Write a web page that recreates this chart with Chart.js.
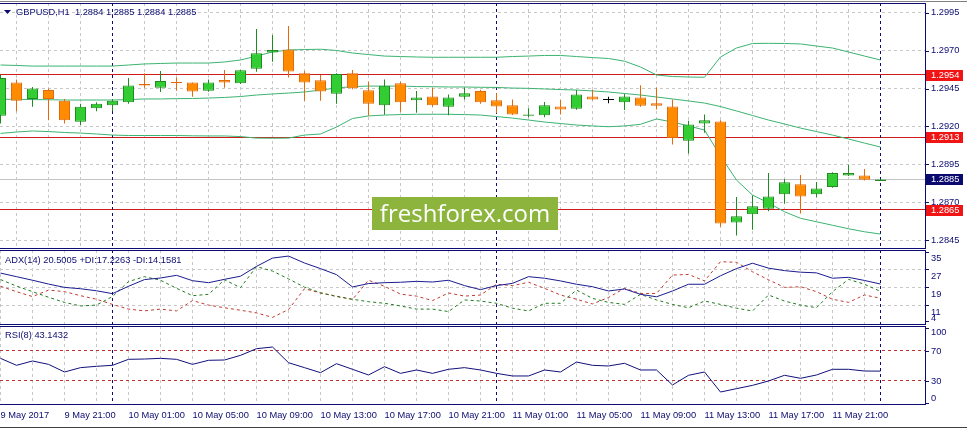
<!DOCTYPE html>
<html>
<head>
<meta charset="utf-8">
<title>GBPUSD,H1</title>
<script src="https://cdn.jsdelivr.net/npm/chart.js@4.4.1/dist/chart.umd.min.js"></script>
<style>
  html, body { margin: 0; padding: 0; background: #fff; }
  #wrap { position: relative; width: 967px; height: 429px; overflow: hidden; background: #fff; }
  #wrap canvas { position: absolute; left: 0; }
  #logo {
    position: absolute; left: 372px; top: 197px; width: 186px; height: 33px;
    background: #8db43d; color: #fff; font: 24px 'Open Sans', sans-serif;
    line-height: 32px; text-align: center;
  }
</style>
</head>
<body>
<div id="wrap">
  <canvas id="mainChart" width="967" height="250" style="top:0"></canvas>
  <canvas id="adxChart" width="967" height="77" style="top:249px"></canvas>
  <canvas id="rsiChart" width="967" height="104" style="top:325px"></canvas>
  <div id="logo">freshforex.com</div>
</div>
<script>
'use strict';

// ── Data ─────────────────────────────────────────────────────
const symbol = 'GBPUSD,H1';
const timeLabels = ['9 May 2017', '9 May 21:00', '10 May 01:00', '10 May 05:00', '10 May 09:00',
  '10 May 13:00', '10 May 17:00', '10 May 21:00', '11 May 01:00', '11 May 05:00', '11 May 09:00',
  '11 May 13:00', '11 May 17:00', '11 May 21:00'];
const labelEvery = 4;              // one time label every 4 bars
const separatorBars = [7, 31, 55]; // 10 May 00:00, 11 May 00:00, 12 May 00:00

const opens = [1.2927, 1.2949, 1.2938, 1.2944, 1.2937, 1.2923, 1.2932, 1.2934, 1.2936, 1.2948,
  1.29455, 1.29493, 1.2949, 1.29435, 1.29506, 1.29484, 1.29581, 1.29688, 1.29708, 1.2955,
  1.29504, 1.29416, 1.2955, 1.29438, 1.29339, 1.29484, 1.29372, 1.29398, 1.2933, 1.29396,
  1.29433, 1.29372, 1.29339, 1.29271, 1.29273, 1.29332, 1.29317, 1.29398, 1.29374, 1.29359,
  1.29391, 1.29352, 1.29332, 1.29106, 1.2922, 1.29233, 1.28567, 1.2862, 1.28657, 1.28752,
  1.28818, 1.28752, 1.288, 1.28877, 1.28877, 1.2884];
const highs = [1.2954, 1.2951, 1.2946, 1.2945, 1.2938, 1.2935, 1.2936, 1.2938, 1.2952, 1.2955,
  1.29565, 1.29523, 1.2949, 1.2951, 1.29572, 1.29572, 1.29842, 1.29803, 1.29862, 1.29565,
  1.29539, 1.2955, 1.29572, 1.29495, 1.2951, 1.29495, 1.29433, 1.29455, 1.29411, 1.29457,
  1.29442, 1.29418, 1.29378, 1.29319, 1.29361, 1.29374, 1.2944, 1.2944, 1.29396, 1.29413,
  1.29471, 1.29457, 1.29378, 1.29238, 1.29279, 1.2924, 1.28734, 1.28745, 1.28892, 1.28853,
  1.28879, 1.28833, 1.28897, 1.28947, 1.28919, 1.2885];
const lows = [1.2922, 1.2930, 1.2933, 1.2924, 1.2922, 1.2921, 1.2930, 1.2930, 1.2935, 1.29455,
  1.29427, 1.29435, 1.29396, 1.29429, 1.29455, 1.2948, 1.29561, 1.29627, 1.29523, 1.2937,
  1.2937, 1.2935, 1.29445, 1.29271, 1.29277, 1.29297, 1.2929, 1.2933, 1.29273, 1.29378,
  1.2935, 1.29286, 1.29275, 1.2926, 1.2926, 1.29279, 1.2931, 1.29372, 1.29352, 1.29308,
  1.2933, 1.29312, 1.29081, 1.29022, 1.29158, 1.28538, 1.28481, 1.28519, 1.2864, 1.2869,
  1.28626, 1.28732, 1.28795, 1.28873, 1.28844, 1.2884];
const closes = [1.2952, 1.2937, 1.2945, 1.2938, 1.2924, 1.2933, 1.2935, 1.2937, 1.2947, 1.2947,
  1.2950, 1.29484, 1.29431, 1.2949, 1.2949, 1.2957, 1.29682, 1.29704, 1.29563, 1.2949,
  1.29431, 1.29545, 1.29451, 1.2935, 1.29468, 1.29359, 1.29391, 1.29339, 1.29391, 1.29418,
  1.29359, 1.29332, 1.29279, 1.29279, 1.29339, 1.29312, 1.29411, 1.29378, 1.29374, 1.29398,
  1.29337, 1.29337, 1.29123, 1.29213, 1.2924, 1.2856, 1.28607, 1.28673, 1.28738, 1.28831,
  1.28738, 1.28791, 1.28892, 1.28892, 1.28848, 1.2885];

const bbUpper = [1.29605, 1.29602, 1.29598, 1.29598, 1.29598, 1.29598, 1.29598, 1.29598, 1.29605, 1.29612,
  1.29615, 1.29618, 1.29618, 1.29618, 1.29625, 1.29638, 1.29664, 1.29691, 1.29704, 1.29707,
  1.29709, 1.29701, 1.29684, 1.29674, 1.29664, 1.29661, 1.29658, 1.29656, 1.29656, 1.29656,
  1.29656, 1.29656, 1.29661, 1.29664, 1.29668, 1.29668, 1.29661, 1.29654, 1.29648, 1.29630,
  1.29592, 1.29539, 1.29529, 1.29526, 1.29524, 1.29658, 1.29717, 1.29747, 1.29748, 1.29747,
  1.29744, 1.29730, 1.29717, 1.29691, 1.29664, 1.29638];
const bbMiddle = [1.29379, 1.29379, 1.29377, 1.29376, 1.29374, 1.29374, 1.29374, 1.29374, 1.29377, 1.29381,
  1.29381, 1.29383, 1.29384, 1.29387, 1.29391, 1.29397, 1.29407, 1.29414, 1.29420, 1.29427,
  1.29440, 1.29453, 1.29463, 1.29466, 1.29466, 1.29466, 1.29463, 1.29462, 1.29460, 1.29460,
  1.29458, 1.29457, 1.29453, 1.29451, 1.29447, 1.29443, 1.29440, 1.29434, 1.29427, 1.29417,
  1.29407, 1.29394, 1.29381, 1.29368, 1.29354, 1.29331, 1.29302, 1.29272, 1.29242, 1.29216,
  1.29189, 1.29166, 1.29143, 1.29117, 1.29090, 1.29064];
const bbLower = [1.29154, 1.29163, 1.29170, 1.29166, 1.29160, 1.29156, 1.29150, 1.29143, 1.29140, 1.29140,
  1.29140, 1.29140, 1.29138, 1.29137, 1.29137, 1.29133, 1.29123, 1.29122, 1.29123, 1.29143,
  1.29150, 1.29196, 1.29252, 1.29269, 1.29275, 1.29278, 1.29280, 1.29280, 1.29280, 1.29278,
  1.29275, 1.29265, 1.29255, 1.29242, 1.29229, 1.29219, 1.29209, 1.29203, 1.29198, 1.29203,
  1.29214, 1.29249, 1.29229, 1.29203, 1.29176, 1.29005, 1.28846, 1.28747, 1.28695, 1.28637,
  1.28594, 1.28571, 1.28548, 1.28525, 1.28505, 1.28490];

const adx = [25.4, 23.8, 22.2, 20.5, 19.0, 18.4, 17.5, 16.2, 19.5, 22.5,
  23.2, 24.4, 22.0, 21.1, 22.6, 24.0, 28.4, 32.1, 33.0, 29.9,
  27.4, 24.7, 19.2, 20.7, 21.1, 21.3, 21.7, 21.4, 22.2, 19.8,
  18.0, 19.8, 20.8, 23.8, 23.1, 21.9, 20.4, 19.3, 17.4, 18.3,
  15.9, 14.8, 17.4, 20.4, 20.4, 24.2, 27.4, 29.8, 27.6, 26.5,
  25.8, 25.5, 23.1, 23.5, 22.1, 20.5005];
const plusDi = [22.5, 19.6, 17.1, 14.6, 12.3, 10.7, 11.1, 14.9, 21.6, 23.8,
  22.2, 18.6, 15.3, 15.9, 22.4, 18.9, 28.3, 26.3, 22.8, 19.1,
  16.6, 14.9, 13.7, 12.6, 11.9, 10.7, 9.3, 9.3, 8.2, 13.4,
  12.9, 11.9, 9.7, 8.45, 11.9, 11.9, 17.8, 14.1, 12.3, 11.4,
  15.9, 13.4, 11.4, 9.9, 12.9, 11.4, 9.7, 8.45, 15.6, 12.9,
  11.1, 9.9, 17.1, 22.6, 20.4, 17.2263];
const minusDi = [19.5, 17.1, 14.9, 17.8, 17.1, 15.3, 13.7, 11.4, 9.3, 8.5,
  9.3, 8.5, 13.1, 11.1, 9.9, 8.8, 7.6, 5.6, 9.1, 18.4,
  16.5, 15.1, 13.6, 22.2, 19.5, 16.0, 15.1, 13.1, 16.5, 15.1,
  15.6, 20.4, 19.8, 21.3, 18.6, 15.6, 13.7, 11.6, 14.5, 18.6,
  16.3, 16.3, 24.5, 24.8, 21.9, 30.5, 30.2, 26.0, 22.4, 19.0,
  19.3, 17.1, 13.7, 12.3, 15.6, 14.1581];
const rsi = [60.2, 50.9, 56.7, 52.2, 42.0, 47.8, 49.6, 50.9, 58.9, 59.3,
  60.2, 58.9, 52.2, 57.6, 58.0, 64.2, 73.1, 75.3, 54.4, 47.8,
  41.1, 53.1, 45.6, 38.0, 49.1, 40.2, 44.7, 40.2, 45.6, 47.8,
  44.7, 40.2, 36.7, 36.7, 44.7, 42.0, 55.3, 50.9, 50.0, 53.6,
  44.7, 44.7, 24.7, 37.6, 42.0, 15.3, 19.8, 24.2, 30.0, 37.6,
  33.6, 38.0, 45.6, 45.6, 43.3, 43.1432];

const levels = [1.2954, 1.2913, 1.2865];
const priceTicks = [1.2995, 1.2970, 1.2945, 1.2920, 1.2895, 1.2870, 1.2845];
const adxTicks = [35, 27, 19, 11, 4];
const adxGrid = [27, 19, 11];
const rsiTicks = [100, 70, 30, 0];
const rsiLevels = [70, 30];

// ── Look ─────────────────────────────────────────────────────
const NAVY = '#0c0c72';
const GRID = '#c8c8c8';
const FONT = '9.3px "Liberation Sans", Arial, sans-serif';
const UP_FILL = '#32cd32', UP_EDGE = '#1f8c1f';
const DOWN_FILL = '#ff8c00', DOWN_EDGE = '#e26a0c';
const FLAT = '#000000';
const AXIS_W = 41;
const xMin = -1 / 32, xMax = xMin + (967 - AXIS_W) / 16;   // 16 px per bar

Chart.defaults.font.family = '"Liberation Sans", Arial, sans-serif';
Chart.defaults.animation = false;

const N = closes.length;
const bars = closes.map((_, i) => i);
const gridBars = bars.filter(i => i % 2 === 0);
const labelAt = {};
timeLabels.forEach((t, k) => { labelAt[k * labelEvery] = t; });

const dir = closes.map((c, i) => Math.sign(c - opens[i]));
const fillOf = dir.map(d => d > 0 ? UP_FILL : d < 0 ? DOWN_FILL : FLAT);
const edgeOf = dir.map(d => d > 0 ? UP_EDGE : d < 0 ? DOWN_EDGE : FLAT);
const series = arr => arr.map((v, i) => ({ x: i, y: v }));

// ── Shared helpers ───────────────────────────────────────────
function xAxis(showLabels) {
  return {
    type: 'linear', min: xMin, max: xMax, offset: false,
    afterBuildTicks: s => { s.ticks = gridBars.map(v => ({ value: v })); },
    afterFit: s => { s.height = showLabels ? 25 : 0; s.paddingLeft = 0; s.paddingRight = 0; },
    grid: { color: GRID, drawTicks: false },
    border: { display: false, dash: [3, 3] },
    ticks: showLabels ? {
      autoSkip: false, maxRotation: 0, align: 'start', padding: 6, color: NAVY,
      font: { size: 9.3 }, callback: v => labelAt[v] || ''
    } : { display: false }
  };
}

function yAxis(min, max, gridValues, showGrid) {
  return {
    position: 'right', min, max,
    afterBuildTicks: s => { s.ticks = gridValues.map(v => ({ value: v })); },
    afterFit: s => { s.width = AXIS_W; s.paddingTop = 0; s.paddingBottom = 0; },
    ticks: { display: false },
    grid: { display: showGrid, color: GRID, drawTicks: false },
    border: { display: false, dash: [3, 3] }
  };
}

function baseOptions(padding, yScale, showLabels) {
  return {
    responsive: false, events: [], layout: { padding },
    plugins: { legend: { display: false }, tooltip: { enabled: false } },
    scales: { x: xAxis(showLabels), y: yScale }
  };
}

function drawSeparators(chart) {
  const { ctx, chartArea: a, scales: { x } } = chart;
  ctx.save();
  ctx.strokeStyle = NAVY; ctx.lineWidth = 1; ctx.setLineDash([3, 3]);
  separatorBars.forEach(b => {
    const px = Math.floor(x.getPixelForValue(b)) + 0.5;
    ctx.beginPath(); ctx.moveTo(px, a.top); ctx.lineTo(px, a.bottom); ctx.stroke();
  });
  ctx.restore();
}

function hline(chart, value, color, dash) {
  const { ctx, chartArea: a, scales: { y } } = chart;
  const py = Math.floor(y.getPixelForValue(value)) + 0.5;
  ctx.save();
  ctx.strokeStyle = color; ctx.lineWidth = 1; ctx.setLineDash(dash || []);
  ctx.beginPath(); ctx.moveTo(a.left, py); ctx.lineTo(a.right, py); ctx.stroke();
  ctx.restore();
}

function drawFrame(chart) {
  const { ctx, chartArea: a } = chart;
  ctx.save();
  ctx.strokeStyle = NAVY; ctx.lineWidth = 1;
  ctx.beginPath();
  ctx.moveTo(0, a.top + 0.5); ctx.lineTo(a.right, a.top + 0.5);
  ctx.moveTo(0, a.bottom + 0.5); ctx.lineTo(a.right, a.bottom + 0.5);
  ctx.moveTo(a.right - 0.5, a.top); ctx.lineTo(a.right - 0.5, a.bottom + 1);
  ctx.stroke();
  ctx.restore();
}

// right-hand scale text, kept inside the pane like the terminal does
function drawAxisLabels(chart, values, offset, fmt) {
  const { ctx, chartArea: a, scales: { y } } = chart;
  ctx.save();
  ctx.font = FONT; ctx.fillStyle = NAVY; ctx.textBaseline = 'middle'; ctx.textAlign = 'left';
  values.forEach(v => {
    const p = y.getPixelForValue(v);
    const ty = Math.min(Math.max(p + offset, a.top + 6), a.bottom - 6);
    ctx.fillText(fmt(v), a.right + 5, ty);
    if (p > a.top && p < a.bottom) ctx.fillRect(a.right, Math.round(p), 3, 1);
  });
  ctx.restore();
}

function priceTag(chart, value, bg) {
  const { ctx, chartArea: a, scales: { y } } = chart;
  const py = Math.round(y.getPixelForValue(value));
  ctx.save();
  ctx.fillStyle = bg; ctx.fillRect(a.right, py - 5, 37, 11);
  ctx.fillStyle = '#fff'; ctx.font = FONT; ctx.textBaseline = 'middle'; ctx.textAlign = 'left';
  ctx.fillText(value.toFixed(4), a.right + 5, py + 0.5);
  ctx.restore();
}

function paneTitle(chart, text, x, y) {
  const { ctx } = chart;
  ctx.save();
  ctx.font = FONT; ctx.fillStyle = NAVY; ctx.textBaseline = 'middle';
  ctx.fillText(text, x, y);
  ctx.restore();
}

// ── Price pane ───────────────────────────────────────────────
const last = N - 1;
new Chart(document.getElementById('mainChart'), {
  type: 'bar',
  data: {
    datasets: [
      { type: 'bar', data: bars.map(i => ({ x: i, y: [opens[i], closes[i]] })), backgroundColor: fillOf,
        borderColor: edgeOf, borderWidth: 1, borderSkipped: false, barThickness: 11, minBarLength: 1,
        inflateAmount: 0, grouped: false, order: 0 },
      { type: 'bar', data: bars.map(i => ({ x: i, y: [lows[i], highs[i]] })), backgroundColor: edgeOf,
        borderWidth: 0, barThickness: 1, inflateAmount: 0, grouped: false, order: 1 },
      { type: 'line', data: series(bbUpper), borderColor: '#3cb371', borderWidth: 1, pointRadius: 0, order: 2 },
      { type: 'line', data: series(bbMiddle), borderColor: '#3cb371', borderWidth: 1, pointRadius: 0, order: 2 },
      { type: 'line', data: series(bbLower), borderColor: '#3cb371', borderWidth: 1, pointRadius: 0, order: 2 }
    ]
  },
  options: baseOptions({ top: 3, bottom: 2, left: 0, right: 0 }, yAxis(1.28398, 1.30014, priceTicks, true), false),
  plugins: [{
    id: 'priceDecor',
    beforeDatasetsDraw(chart) {
      hline(chart, closes[last], '#c4c4c4');
      levels.forEach(v => hline(chart, v, '#d01a1a'));
      drawSeparators(chart);
    },
    afterDraw(chart) {
      const { ctx } = chart;
      drawFrame(chart);
      ctx.save();
      ctx.fillStyle = '#808080'; ctx.fillRect(0, 1, 967, 1);
      ctx.fillStyle = NAVY;
      ctx.beginPath(); ctx.moveTo(4, 10); ctx.lineTo(11, 10); ctx.lineTo(7.5, 14); ctx.closePath(); ctx.fill();
      ctx.restore();
      drawAxisLabels(chart, priceTicks, 0, v => v.toFixed(4));
      levels.forEach(v => priceTag(chart, v, '#f01414'));
      priceTag(chart, closes[last], '#0a0a6e');
      const ohlc = [opens[last], highs[last], lows[last], closes[last]].map(v => v.toFixed(4)).join(' ');
      paneTitle(chart, symbol + '  ' + ohlc, 16, 12);
    }
  }]
});

// ── ADX pane ─────────────────────────────────────────────────
new Chart(document.getElementById('adxChart'), {
  type: 'line',
  data: {
    datasets: [
      { data: series(adx), borderColor: '#1b1b8f', borderWidth: 1, pointRadius: 0 },
      { data: series(plusDi), borderColor: '#1e7b1e', borderWidth: 1, borderDash: [3, 3], pointRadius: 0 },
      { data: series(minusDi), borderColor: '#c03a30', borderWidth: 1, borderDash: [3, 3], pointRadius: 0 }
    ]
  },
  options: baseOptions({ top: 1, bottom: 2, left: 0, right: 0 }, yAxis(2.64, 35.715, adxGrid, true), false),
  plugins: [{
    id: 'adxDecor',
    beforeDatasetsDraw: drawSeparators,
    afterDraw(chart) {
      drawFrame(chart);
      drawAxisLabels(chart, adxTicks, 7, v => String(v));
      paneTitle(chart, 'ADX(14) ' + adx[last].toFixed(4) + ' +DI:' + plusDi[last].toFixed(4) +
        ' -DI:' + minusDi[last].toFixed(4), 5, 11.5);
    }
  }]
});

// ── RSI pane + time axis ─────────────────────────────────────
new Chart(document.getElementById('rsiChart'), {
  type: 'line',
  data: {
    datasets: [
      { data: series(rsi), borderColor: '#10107a', borderWidth: 1, pointRadius: 0 }
    ]
  },
  options: baseOptions({ top: 1, bottom: 0, left: 0, right: 0 }, yAxis(-0.67, 103.33, rsiLevels, false), true),
  plugins: [{
    id: 'rsiDecor',
    beforeDatasetsDraw(chart) {
      drawSeparators(chart);
      rsiLevels.forEach(v => hline(chart, v, '#c03030', [3, 3]));
    },
    afterDraw(chart) {
      drawFrame(chart);
      drawAxisLabels(chart, rsiTicks, 0, v => String(v));
      paneTitle(chart, 'RSI(8) ' + rsi[last].toFixed(4), 5, 10.5);
      chart.ctx.fillStyle = '#404040';
      chart.ctx.fillRect(0, 102, 967, 1);
    }
  }]
});
</script>
</body>
</html>
